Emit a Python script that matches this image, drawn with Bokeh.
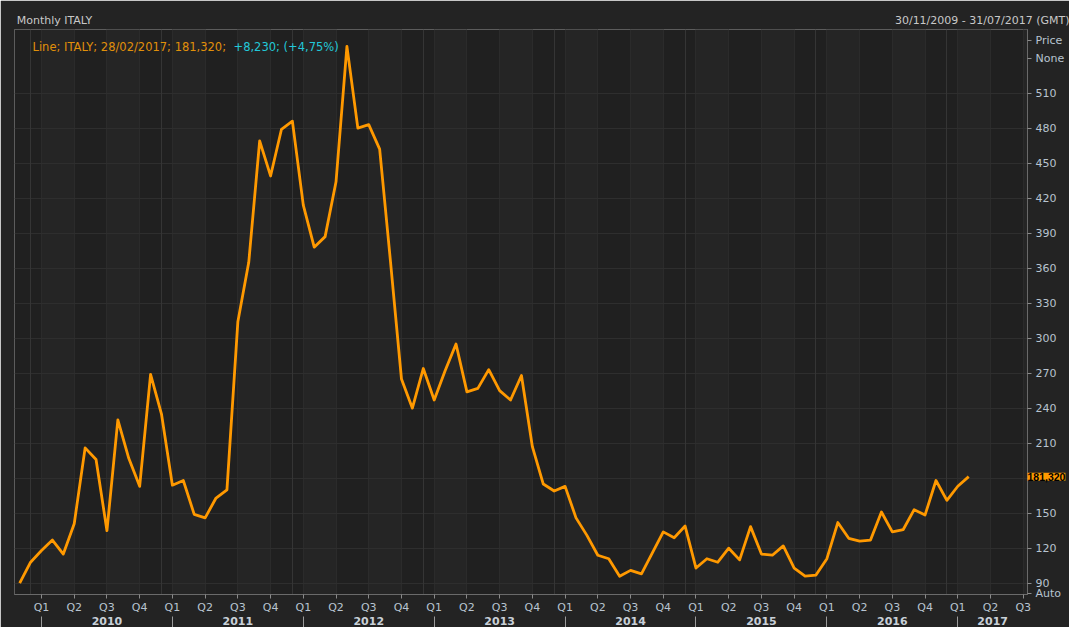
from bokeh.plotting import figure
from bokeh.models import FixedTicker, LinearAxis, Label, Range1d, Grid
from bokeh.embed import file_html
from bokeh.resources import INLINE

# ---------------- data ----------------
months = [
    "11/2009", "12/2009",
    "01/2010", "02/2010", "03/2010", "04/2010", "05/2010", "06/2010",
    "07/2010", "08/2010", "09/2010", "10/2010", "11/2010", "12/2010",
    "01/2011", "02/2011", "03/2011", "04/2011", "05/2011", "06/2011",
    "07/2011", "08/2011", "09/2011", "10/2011", "11/2011", "12/2011",
    "01/2012", "02/2012", "03/2012", "04/2012", "05/2012", "06/2012",
    "07/2012", "08/2012", "09/2012", "10/2012", "11/2012", "12/2012",
    "01/2013", "02/2013", "03/2013", "04/2013", "05/2013", "06/2013",
    "07/2013", "08/2013", "09/2013", "10/2013", "11/2013", "12/2013",
    "01/2014", "02/2014", "03/2014", "04/2014", "05/2014", "06/2014",
    "07/2014", "08/2014", "09/2014", "10/2014", "11/2014", "12/2014",
    "01/2015", "02/2015", "03/2015", "04/2015", "05/2015", "06/2015",
    "07/2015", "08/2015", "09/2015", "10/2015", "11/2015", "12/2015",
    "01/2016", "02/2016", "03/2016", "04/2016", "05/2016", "06/2016",
    "07/2016", "08/2016", "09/2016", "10/2016", "11/2016", "12/2016",
    "01/2017", "02/2017",
]
values = [
    90, 108,
    118, 127, 115, 141, 206, 196, 135, 230, 197, 173, 269, 235,
    174, 178, 149, 146, 163, 170, 314, 365, 469, 439, 479, 486,
    414, 378, 387, 434, 550, 480, 483, 462, 365, 265, 240, 274,
    247, 272, 295, 254, 257, 273, 255, 247, 268, 207, 175, 169,
    173, 146, 131, 114, 111, 96, 101, 98, 116, 134, 129, 139,
    103, 111, 108, 120, 110, 138.5, 115, 114, 122, 103, 96, 97,
    111, 142, 128.5, 126, 127, 151, 134, 136, 153, 148.5, 178, 161,
    173.09, 181.32,
]

quarter_names = ["Q1", "Q2", "Q3", "Q4"]
year_names = ["2010", "2011", "2012", "2013", "2014", "2015", "2016", "2017"]
price_ticks = [90, 120, 150, 180, 210, 240, 270, 300, 330, 360, 390, 420, 450, 480, 510]
series_name = "ITALY"
last_date = "28/02/2017"
range_text = "30/11/2009 - 31/07/2017 (GMT)"
title_text = "Monthly " + series_name

# ---------------- helpers ----------------
def month_index(s):
    mm, yy = s.split("/")
    return (int(yy) - 2010) * 12 + int(mm) - 1

x = [month_index(s) for s in months]

X0, X1 = -2.475, 90.39
Y0, Y1 = 80.33, 564.5

quarter_ticks = list(range(0, 91, 3))
q_over = {float(t): quarter_names[(t % 12) // 3] for t in quarter_ticks}
year_starts = [12 * i for i in range(len(year_names))]
year_centers = [min(s + 6.0, (s + X1) / 2.0) for s in year_starts]
y_over = {float(c): n for c, n in zip(year_centers, year_names)}
dec_lines = [s - 1 for s in year_starts]

# positions (in month units) of the header texts in the top strip
hdr_pos = [1.19, 87.6]
hdr_over = {hdr_pos[0]: title_text, hdr_pos[1]: range_text}

# extra labels on the price scale
PRICE_V, NONE_V, AUTO_V = 555.1, 539.7, Y0 + 0.6
r_ticks = price_ticks + [NONE_V, PRICE_V, AUTO_V]
r_over = {PRICE_V: "Price", NONE_V: "None", AUTO_V: "Auto", 180: " "}

FONT = "DejaVu Sans"
TICK_COL = "#b8c4d0"

p = figure(width=1069, height=627, output_backend="svg", toolbar_location=None,
           x_range=Range1d(X0, X1), y_range=Range1d(Y0, Y1),
           y_axis_location="right",
           min_border_left=14, min_border_right=42, min_border_top=29, min_border_bottom=32,
           background_fill_color="#202020", border_fill_color="#232323",
           outline_line_color="#5c5c5c")
p.title.visible = False

# grids
p.xgrid.ticker = FixedTicker(ticks=quarter_ticks)
p.xgrid.grid_line_color = "#2b2b2b"
p.xgrid.band_fill_color = "#252525"
p.xgrid.band_fill_alpha = 1.0
p.ygrid.ticker = FixedTicker(ticks=price_ticks)
p.ygrid.grid_line_color = "#2e2e2e"
p.add_layout(Grid(dimension=0, ticker=FixedTicker(ticks=dec_lines), grid_line_color="#353535"))

# quarter axis
xa = p.xaxis[0]
xa.ticker = FixedTicker(ticks=quarter_ticks)
xa.major_label_overrides = q_over
xa.axis_line_color = "#6a6a6a"
xa.major_tick_line_color = "#8a8a8a"
xa.major_tick_out = 4
xa.major_tick_in = 0
xa.minor_tick_line_color = None
xa.major_label_standoff = 2
xa.major_label_text_color = TICK_COL
xa.major_label_text_font = FONT
xa.major_label_text_font_size = "11px"

# year axis (labels sit beside the year separators)
ya2 = LinearAxis(ticker=FixedTicker(ticks=year_centers, minor_ticks=year_starts),
                 major_label_overrides=y_over,
                 axis_line_color=None, major_tick_line_color=None,
                 major_tick_out=0, major_tick_in=0,
                 minor_tick_line_color="#9a9a9a", minor_tick_out=12, minor_tick_in=0,
                 major_label_standoff=-12,
                 major_label_text_color="#c8d0d8", major_label_text_font=FONT,
                 major_label_text_font_size="11px", major_label_text_font_style="bold")
p.add_layout(ya2, "below")

# header strip (title and date range) as an axis above the frame
top_axis = LinearAxis(ticker=FixedTicker(ticks=hdr_pos), major_label_overrides=hdr_over,
                      axis_line_color=None, major_tick_line_color=None,
                      minor_tick_line_color=None, major_tick_out=0, major_tick_in=0,
                      major_label_standoff=3,
                      major_label_text_color="#c8c8c8", major_label_text_font=FONT,
                      major_label_text_font_size="11px")
p.add_layout(top_axis, "above")

# right price axis
ra = p.yaxis[0]
ra.ticker = FixedTicker(ticks=r_ticks)
ra.major_label_overrides = r_over
ra.axis_line_color = "#6a6a6a"
ra.major_tick_line_color = "#8a8a8a"
ra.major_tick_out = 4
ra.major_tick_in = 0
ra.minor_tick_line_color = None
ra.major_label_standoff = 4
ra.major_label_text_color = TICK_COL
ra.major_label_text_font = FONT
ra.major_label_text_font_size = "11px"

# the series
p.line(x, values, line_color="#ff9900", line_width=2.8, line_join="round")

# ---------------- texts ----------------
last = values[-1]
prev = values[-2]
chg = last - prev
pct = chg / prev * 100
fmt = lambda v, d: f"{v:.{d}f}".replace(".", ",")

def lab(text, x, y, color, size="11px", bold=False, xu="screen", yu="screen", font=FONT, **kw):
    return Label(x=x, y=y, x_units=xu, y_units=yu, text=text, text_color=color,
                 text_font=font, text_font_size=size,
                 text_font_style="bold" if bold else "normal",
                 text_baseline="middle", **kw)

p.add_layout(lab(f"Line; {series_name}; {last_date}; {fmt(last, 3)};", 18, 547.5,
                 "#e0900a", size="11.5px"))
p.add_layout(lab(f"+{fmt(chg, 3)}; (+{fmt(pct, 2)}%)", 219, 547.5, "#22c8d8", size="11.5px"))

# last-value tag on the price scale (lives in a side panel so it is not clipped)
tag = lab(fmt(last, 3), X1, last, "#000000", bold=True, xu="data", yu="data",
          size="10.5px", font="Liberation Sans", background_fill_color="#ff9900")
p.add_layout(tag, "above")

open("out.html", "w").write(file_html(p, INLINE))
